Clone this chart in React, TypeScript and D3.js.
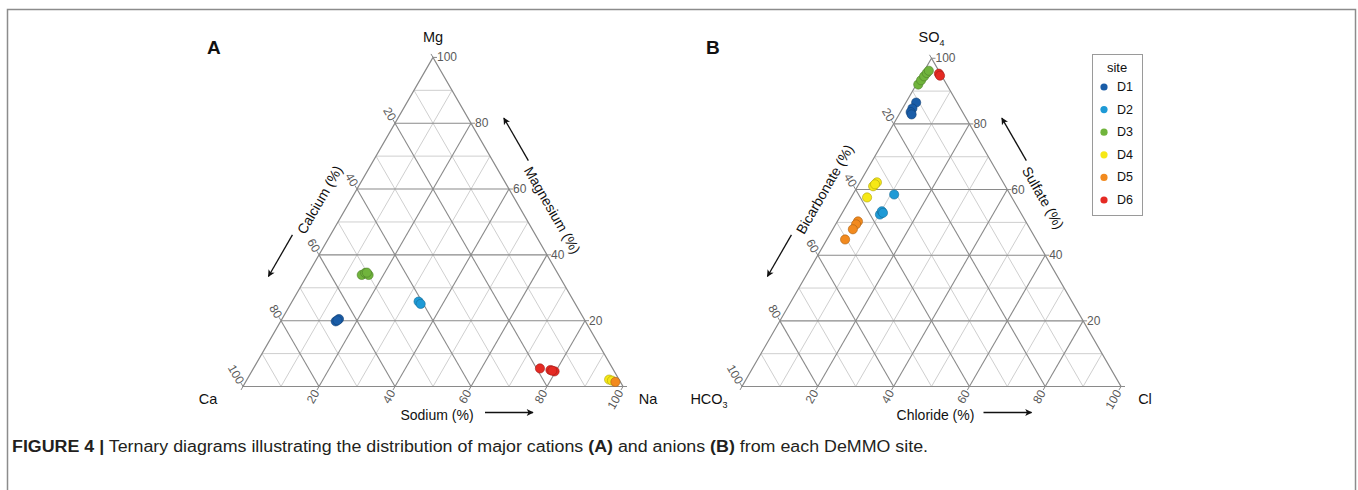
import React from "react";
import * as d3 from "d3";

// ---------- data ----------
const sites = ["D1", "D2", "D3", "D4", "D5", "D6"];
const siteColors = ["#1a5da8", "#1e9ad6", "#70b43c", "#f6e816", "#f28a1e", "#e52a23"];

const gridValues = [10, 20, 30, 40, 50, 60, 70, 80, 90];
const tickValues = [0, 20, 40, 60, 80, 100];
const tickLabels = [20, 40, 60, 80, 100];

// Panel A — cations: [site, Mg (top, %), Na (right, %)]; Ca = 100 - Mg - Na
const cationPoints: [string, number, number][] = [
  ["D1", 19.8, 14.5],
  ["D1", 20.5, 15.0],
  ["D1", 20.1, 14.8],
  ["D2", 25.8, 33.3],
  ["D2", 25.1, 34.2],
  ["D3", 33.9, 14.3],
  ["D3", 34.5, 14.9],
  ["D3", 33.9, 16.1],
  ["D3", 34.6, 15.3],
  ["D6", 5.5, 75.4],
  ["D6", 5.0, 78.4],
  ["D6", 4.6, 79.7],
  ["D6", 4.8, 79.0],
  ["D4", 2.1, 95.3],
  ["D4", 1.8, 96.2],
  ["D5", 1.4, 97.3],
];

// Panel B — anions: [site, SO4 (top, %), Cl (right, %)]; HCO3 = 100 - SO4 - Cl
const anionPoints: [string, number, number][] = [
  ["D3", 92.0, 0.5],
  ["D3", 93.3, 0.6],
  ["D3", 94.5, 0.8],
  ["D3", 95.5, 1.0],
  ["D3", 96.2, 1.2],
  ["D6", 95.3, 4.3],
  ["D6", 94.7, 4.9],
  ["D1", 86.5, 2.7],
  ["D1", 84.7, 2.6],
  ["D1", 83.6, 2.7],
  ["D1", 82.9, 3.3],
  ["D4", 62.2, 4.5],
  ["D4", 61.0, 4.1],
  ["D4", 61.6, 4.3],
  ["D4", 57.6, 4.2],
  ["D2", 58.5, 10.9],
  ["D2", 52.4, 10.2],
  ["D2", 53.4, 10.2],
  ["D2", 52.9, 10.75],
  ["D5", 50.3, 5.45],
  ["D5", 49.4, 5.4],
  ["D5", 47.9, 5.3],
  ["D5", 44.8, 4.8],
];

const captionBold = "FIGURE 4 |";
const captionText1 = " Ternary diagrams illustrating the distribution of major cations ";
const captionText2 = " and anions ";
const captionText3 = " from each DeMMO site.";

// ---------- components ----------
const colorScale = d3.scaleOrdinal<string, string>().domain(sites).range(siteColors);

const FONT = "'Liberation Sans', Arial, sans-serif";
const TITLE_FONT = "'Liberation Sans', Arial, sans-serif";

function Ternary(p: any) {
  const H = (p.W * Math.sqrt(3)) / 2;
  const xs = d3.scaleLinear().domain([0, 100]).range([p.x0, p.x0 + p.W]);
  const ys = d3.scaleLinear().domain([0, 100]).range([p.by, p.by - H]);
  const pt = (top: number, right: number): [number, number] => [xs(right + top / 2), ys(top)];
  const line = d3.line();

  const apex = pt(100, 0);
  const bl = pt(0, 0);
  const br = pt(0, 100);

  const gridLines: { d: string; major: boolean }[] = [];
  gridValues.forEach((v) => {
    const major = v % 20 === 0;
    gridLines.push({ d: line([pt(v, 0), pt(v, 100 - v)])!, major });
    gridLines.push({ d: line([pt(0, v), pt(100 - v, v)])!, major });
    gridLines.push({ d: line([pt(0, 100 - v), pt(100 - v, 0)])!, major });
  });
  const minor = gridLines.filter((g) => !g.major);
  const majorL = gridLines.filter((g) => g.major);

  const c60 = 0.5;
  const s60 = Math.sqrt(3) / 2;
  const tl = 4;

  const leftAlong = (a: number, out: number): [number, number] => [
    bl[0] + a * c60 - out * s60,
    bl[1] - a * s60 - out * c60,
  ];
  const rightAlong = (a: number, out: number): [number, number] => [
    br[0] - a * c60 + out * s60,
    br[1] - a * s60 - out * c60,
  ];
  const lt = leftAlong(p.leftOffset, 27);
  const la1 = leftAlong(156, 33);
  const la2 = leftAlong(108, 33);
  const rt = rightAlong(p.rightOffset, 27);
  const ra1 = rightAlong(243, 31);
  const ra2 = rightAlong(292, 31);

  return (
    <g>
      <text x={p.x0 - 36} y={54} fontFamily={FONT} fontWeight="bold" fontSize={19} fill="#111">
        {p.letter}
      </text>
      {minor.map((g: any, i: number) => (
        <path key={"mi" + i} d={g.d} stroke="#cfcfcf" strokeWidth={1} fill="none" />
      ))}
      {majorL.map((g: any, i: number) => (
        <path key={"ma" + i} d={g.d} stroke="#8a8a8a" strokeWidth={1.1} fill="none" />
      ))}
      <path d={line([apex, bl, br, apex])! + "Z"} stroke="#8a8a8a" strokeWidth={1.2} fill="none" />
      {tickValues.map((v) => {
        const r = pt(v, 100 - v);
        const b = pt(0, v);
        const l = pt(100 - v, 0);
        return (
          <g key={"t" + v} stroke="#8a8a8a" strokeWidth={1}>
            <line x1={r[0]} y1={r[1]} x2={r[0] + tl} y2={r[1]} />
            <line x1={b[0]} y1={b[1]} x2={b[0] - tl * c60} y2={b[1] + tl * s60} />
            <line x1={l[0]} y1={l[1]} x2={l[0] - tl * c60} y2={l[1] - tl * s60} />
          </g>
        );
      })}
      {tickLabels.map((v) => {
        const r = pt(v, 100 - v);
        const b = pt(0, v);
        const l = pt(100 - v, 0);
        const bx = b[0] - 5 * c60;
        const by = b[1] + 5 * s60;
        const lx = l[0] - 4 * c60;
        const ly = l[1] - 4 * s60;
        return (
          <g key={"l" + v} fontFamily={FONT} fontSize={12} fill="#5a5a5a">
            <text x={r[0] + 4} y={r[1]} dominantBaseline="central">
              {v}
            </text>
            <text x={bx} y={by} textAnchor="end" dominantBaseline="central" transform={`rotate(-60 ${bx} ${by})`}>
              {v}
            </text>
            <text x={lx} y={ly} textAnchor="end" dominantBaseline="central" transform={`rotate(60 ${lx} ${ly})`}>
              {v}
            </text>
          </g>
        );
      })}
      <g fontFamily={FONT} fontSize={14.5} fill="#111" textAnchor="middle">
        <text x={apex[0]} y={42}>{p.top}</text>
        <text x={bl[0] + p.leftLabelDx} y={bl[1] + 17}>{p.left}</text>
        <text x={br[0] + p.rightLabelDx} y={br[1] + 17}>{p.right}</text>
      </g>
      <g fontFamily={TITLE_FONT} fontSize={14} fill="#111">
        <text x={lt[0]} y={lt[1]} dominantBaseline="central" transform={`rotate(-60 ${lt[0]} ${lt[1]})`}>
          {p.leftTitle}
        </text>
        <text x={rt[0]} y={rt[1]} dominantBaseline="central" transform={`rotate(60 ${rt[0]} ${rt[1]})`}>
          {p.rightTitle}
        </text>
        <text x={apex[0] + 4} y={p.by + 28} textAnchor="middle" dominantBaseline="central">
          {p.bottomTitle}
        </text>
      </g>
      <g stroke="#111" strokeWidth={1.3} markerEnd={`url(#${p.markerId})`}>
        <line x1={la1[0]} y1={la1[1]} x2={la2[0]} y2={la2[1]} />
        <line x1={ra1[0]} y1={ra1[1]} x2={ra2[0]} y2={ra2[1]} />
        <line x1={apex[0] + 52} y1={p.by + 26} x2={apex[0] + 100} y2={p.by + 26} />
      </g>
      {p.points.map(([s, t, r]: [string, number, number], i: number) => {
        const [cx, cy] = pt(t, r);
        const c = colorScale(s);
        return (
          <circle
            key={"p" + i}
            cx={cx}
            cy={cy}
            r={4.6}
            fill={c}
            stroke={d3.color(c)!.darker(1).formatHex()}
            strokeWidth={0.6}
          />
        );
      })}
    </g>
  );
}

export default function App() {
  const legendY = d3.scaleLinear().domain([0, 5]).range([87, 200]);
  return (
    <div style={{ position: "absolute", left: 0, top: 0 }}>
      <svg width={1358} height={490} style={{ display: "block", background: "#fff" }}>
        <defs>
          {["arrA", "arrB"].map((id) => (
            <marker
              key={id}
              id={id}
              viewBox="0 0 10 10"
              refX={9}
              refY={5}
              markerWidth={9}
              markerHeight={7}
              markerUnits="userSpaceOnUse"
              orient="auto"
            >
              <path d="M0,0 L10,5 L0,10 L2.5,5 Z" fill="#111" />
            </marker>
          ))}
        </defs>
        <rect x={7.5} y={9.5} width={1348} height={520} fill="none" stroke="#8c8c8c" strokeWidth={1.5} />
        <Ternary
          x0={243}
          by={386.5}
          W={380}
          letter="A"
          top="Mg"
          left="Ca"
          right="Na"
          leftLabelDx={-35}
          rightLabelDx={25}
          leftOffset={162}
          rightOffset={237}
          leftTitle="Calcium (%)"
          rightTitle="Magnesium (%)"
          bottomTitle="Sodium (%)"
          points={cationPoints}
          markerId="arrA"
        />
        <Ternary
          x0={742}
          by={386.5}
          W={379}
          letter="B"
          top={
            <tspan>
              SO<tspan fontSize={9} dy={4}>4</tspan>
            </tspan>
          }
          left={
            <tspan>
              HCO<tspan fontSize={9} dy={4}>3</tspan>
            </tspan>
          }
          right="Cl"
          leftLabelDx={-33}
          rightLabelDx={24}
          leftOffset={162}
          rightOffset={237}
          leftTitle="Bicarbonate (%)"
          rightTitle="Sulfate (%)"
          bottomTitle="Chloride (%)"
          points={anionPoints}
          markerId="arrB"
        />
        <g fontFamily={FONT}>
          <rect x={1092.5} y={54.5} width={50} height={161} fill="#fff" stroke="#9a9a9a" strokeWidth={1} />
          <text x={1117} y={72} textAnchor="middle" fontSize={13} fill="#111">
            site
          </text>
          {sites.map((s, i) => (
            <g key={s}>
              <circle cx={1104} cy={legendY(i)} r={3.6} fill={colorScale(s)} />
              <text x={1117} y={legendY(i)} dominantBaseline="central" fontSize={12.5} fill="#111">
                {s}
              </text>
            </g>
          ))}
        </g>
        <text
          x={12}
          y={452}
          fontFamily={FONT}
          fontSize={16}
          fill="#231f20"
          textLength={916}
          lengthAdjust="spacingAndGlyphs"
        >
          <tspan fontWeight="bold">{captionBold}</tspan>
          {captionText1}
          <tspan fontWeight="bold">(A)</tspan>
          {captionText2}
          <tspan fontWeight="bold">(B)</tspan>
          {captionText3}
        </text>
      </svg>
    </div>
  );
}
